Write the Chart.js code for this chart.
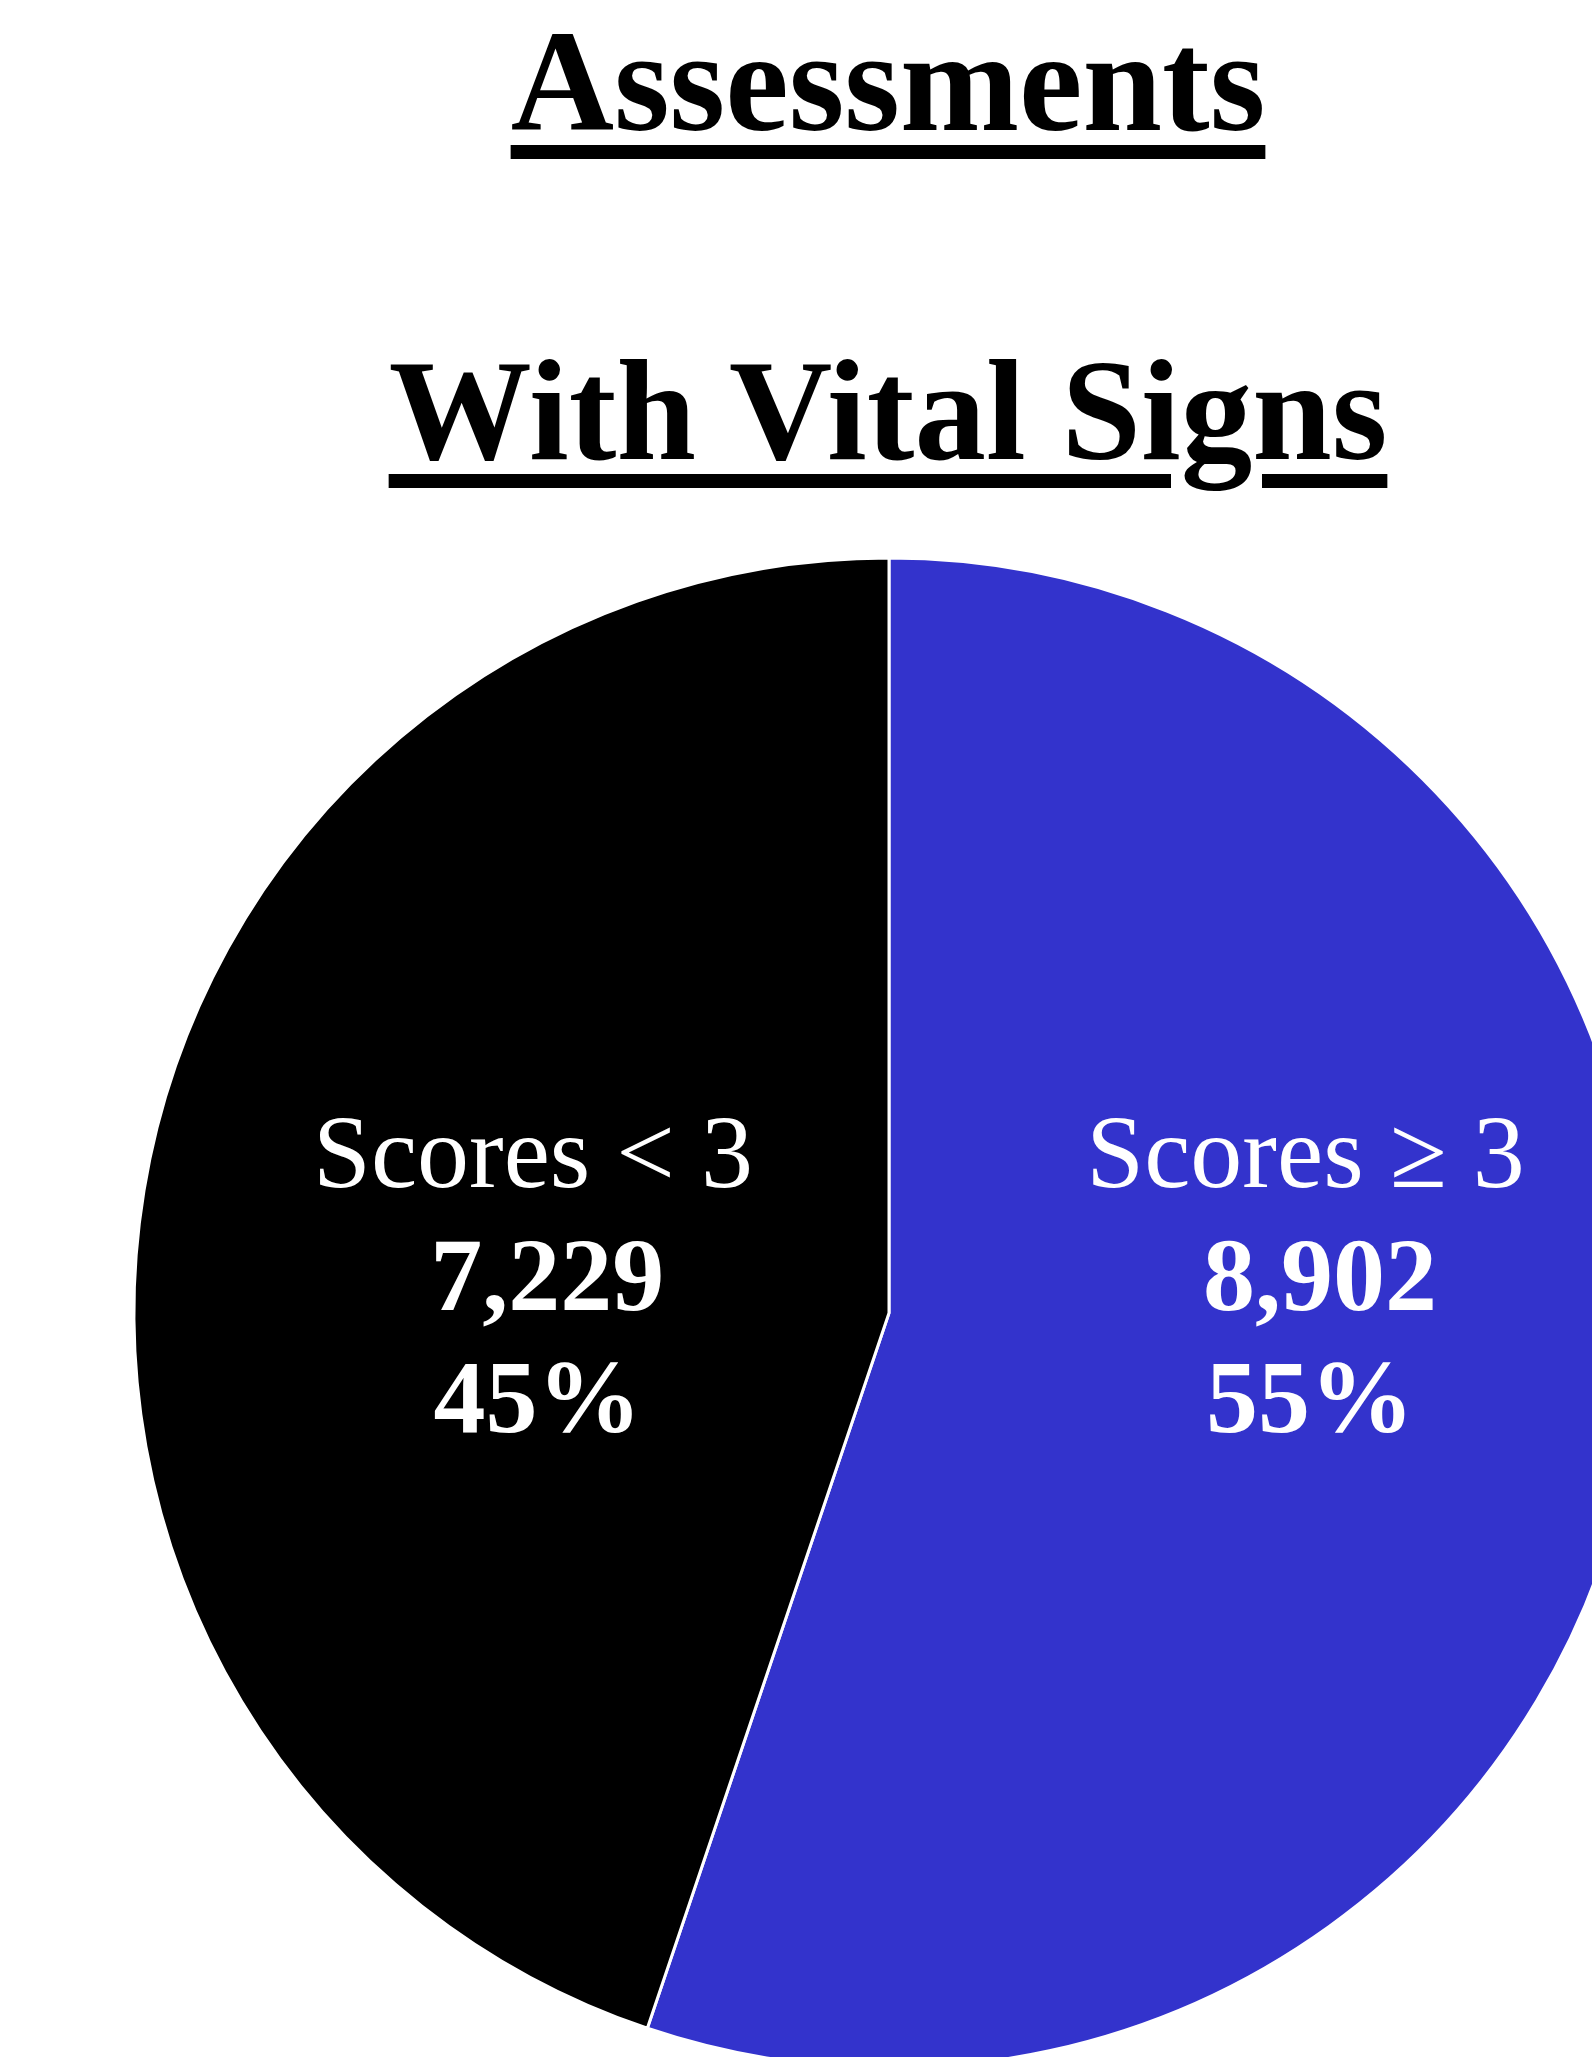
<!DOCTYPE html>
<html>
<head>
<meta charset="utf-8">
<script src="https://cdn.jsdelivr.net/npm/chart.js@4.4.0/dist/chart.umd.min.js"></script>
<style>
  html, body { margin: 0; padding: 0; background: #ffffff; width: 1592px; height: 2057px; overflow: hidden; position: relative; }
  .title {
    position: absolute; left: 888px; transform: translateX(-50%);
    font-family: "Liberation Serif", "Times New Roman", serif; font-weight: bold;
    font-size: 143px; line-height: 1; white-space: nowrap; color: #000;
    text-decoration: underline; text-decoration-thickness: 14px; text-underline-offset: 15px;
  }
  #t1 { top: 11px; }
  #t2 { top: 340px; }
  #wrap { position: absolute; left: 89px; top: 513px; width: 1600px; height: 1600px; }
</style>
</head>
<body>
<div class="title" id="t1">Assessments</div>
<div class="title" id="t2">With Vital Signs</div>
<div id="wrap"><canvas id="c" width="1600" height="1600"></canvas></div>
<script>
const categories = ['Scores \u2265 3', 'Scores < 3'];
const counts = [8902, 7229];
const sliceColors = ['#3333CC', '#000000'];

const total = counts.reduce((a, b) => a + b, 0);

const labelPlugin = {
  id: 'sliceLabels',
  afterDatasetsDraw(chart) {
    const meta = chart.getDatasetMeta(0);
    const arc0 = meta.data[0];
    const cx = arc0.x, cy = arc0.y, r = arc0.outerRadius;
    const ctx = chart.ctx;
    const blockX = [0.5517, -0.4715];
    const lineY = [-0.1669, -0.0040, 0.1576];
    ctx.save();
    ctx.fillStyle = '#ffffff';
    ctx.textAlign = 'center';
    ctx.textBaseline = 'alphabetic';
    categories.forEach((cat, i) => {
      const bx = cx + blockX[i] * r;
      ctx.font = '104px "Liberation Serif", "Times New Roman", serif';
      ctx.fillText(cat, bx, cy + lineY[0] * r);
      ctx.font = 'bold 104px "Liberation Serif", "Times New Roman", serif';
      ctx.fillText(counts[i].toLocaleString('en-US'), bx + 0.019 * r, cy + lineY[1] * r);
      ctx.fillText(Math.round(counts[i] / total * 100) + '%', bx + 0.006 * r, cy + lineY[2] * r);
    });
    ctx.restore();
  }
};

new Chart(document.getElementById('c'), {
  type: 'pie',
  data: {
    labels: categories,
    datasets: [{
      data: counts,
      backgroundColor: sliceColors,
      borderColor: '#ffffff',
      borderWidth: 3,
      radius: 755
    }]
  },
  options: {
    responsive: false,
    animation: false,
    layout: { padding: 0 },
    plugins: {
      legend: { display: false },
      tooltip: { enabled: false },
      title: { display: false }
    },
    events: []
  },
  plugins: [labelPlugin]
});
</script>
</body>
</html>
